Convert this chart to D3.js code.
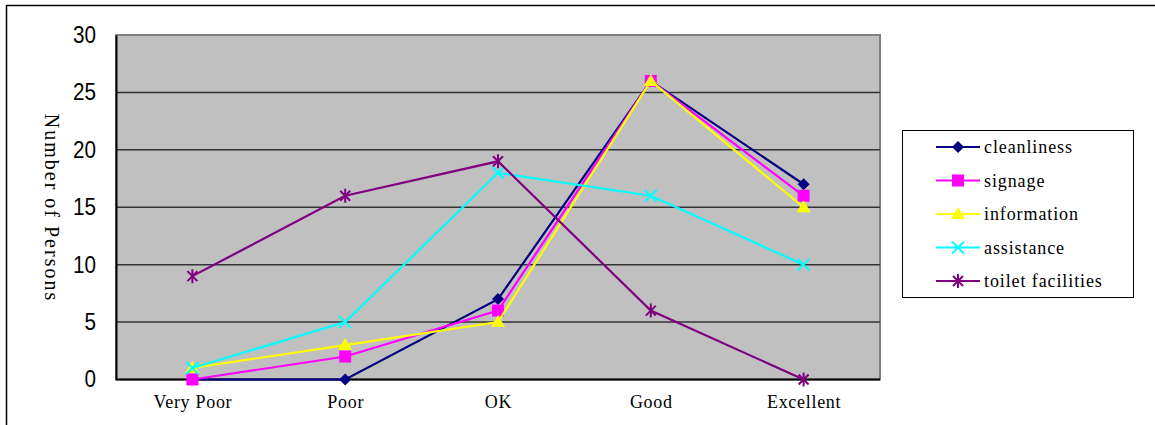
<!DOCTYPE html>
<html><head><meta charset="utf-8">
<script src="https://cdn.jsdelivr.net/npm/d3@7"></script>
<style>body{margin:0;background:#fff;}svg{display:block;}</style>
</head><body>
<script>
const categories = ["Very Poor","Poor","OK","Good","Excellent"];
const seriesNames = ["cleanliness","signage","information","assistance","toilet facilities"];
const cleanliness = [0,0,7,26,17];
const signage = [0,2,6,26,16];
const information = [1,3,5,26,15];
const assistance = [1,5,18,16,10];
const toilet = [9,16,19,6,0];
const yTicks = [0,5,10,15,20,25,30];
const colors = ["#000080","#ff00ff","#ffff00","#00ffff","#800080"];
const markers = ["diamond","square","triangle","x","star"];
const seriesValues = [cleanliness,signage,information,assistance,toilet];

const SERIF = "'Liberation Serif', 'Times New Roman', serif";
const SANS = "'Liberation Sans', Arial, sans-serif";
const W=1155,H=425;
const svg=d3.select("body").append("svg").attr("width",W).attr("height",H);
svg.append("rect").attr("x",6.5).attr("y",5.5).attr("width",1200).attr("height",500)
  .attr("fill","#fff").attr("stroke","#000").attr("stroke-width",1.5);

const L=116,R=880,T=35,B=379.5;
const x=d3.scalePoint().domain(categories).range([L,R]).padding(0.5);
const y=d3.scaleLinear().domain([0,30]).range([B,T]);

svg.append("rect").attr("x",L).attr("y",T).attr("width",R-L).attr("height",B-T)
  .attr("fill","#c0c0c0").attr("stroke","#808080").attr("stroke-width",2);

// gridlines
svg.append("g").selectAll("line").data(yTicks.filter(d=>d>0&&d<30)).join("line")
  .attr("x1",L).attr("x2",R).attr("y1",d=>y(d)).attr("y2",d=>y(d))
  .attr("stroke","#333").attr("stroke-width",1.5);

// axes
const ya=svg.append("g").attr("transform",`translate(${L},0)`)
  .call(d3.axisLeft(y).tickValues(yTicks).tickSize(0).tickPadding(20));
ya.select(".domain").attr("stroke","#000").attr("stroke-width",2);
ya.selectAll("text").attr("font-family",SANS).attr("font-size",23).attr("fill","#000")
  .attr("textLength",d=>String(d).length*11.5).attr("lengthAdjust","spacingAndGlyphs");

svg.append("line").attr("x1",L).attr("x2",R).attr("y1",B).attr("y2",B).attr("stroke","#000").attr("stroke-width",2);

const xa=svg.append("g").attr("transform",`translate(0,${B})`)
  .call(d3.axisBottom(x).tickSize(0).tickPadding(16));
xa.select(".domain").remove();
xa.selectAll("text").attr("font-family",SERIF).attr("font-size",18)
  .attr("letter-spacing","0.7px").attr("fill","#000");

svg.append("text").attr("transform","translate(45,208) rotate(90)")
  .attr("text-anchor","middle").attr("font-family",SERIF)
  .attr("font-size",20).attr("letter-spacing","2px").attr("fill","#000").text("Number of Persons");

function drawMarker(g,type,color,cx,cy){
  if(type==="diamond"){
    g.append("path").attr("d",`M${cx},${cy-6}L${cx+6},${cy}L${cx},${cy+6}L${cx-6},${cy}Z`).attr("fill",color);
  } else if(type==="square"){
    g.append("rect").attr("x",cx-6).attr("y",cy-6).attr("width",12).attr("height",12).attr("fill",color);
  } else if(type==="triangle"){
    g.append("path").attr("d",`M${cx},${cy-7}L${cx+7},${cy+5}L${cx-7},${cy+5}Z`).attr("fill",color);
  } else if(type==="x"){
    g.append("path").attr("d",`M${cx-6},${cy-6}L${cx+6},${cy+6}M${cx-6},${cy+6}L${cx+6},${cy-6}`)
      .attr("stroke",color).attr("stroke-width",2).attr("fill","none");
  } else {
    g.append("path").attr("d",`M${cx-5},${cy-5}L${cx+5},${cy+5}M${cx-5},${cy+5}L${cx+5},${cy-5}M${cx},${cy-7}L${cx},${cy+7}`)
      .attr("stroke",color).attr("stroke-width",2).attr("fill","none");
  }
}

const line=d3.line().x((d,i)=>x(categories[i])).y(d=>y(d));
seriesValues.forEach((vals,si)=>{
  const g=svg.append("g");
  g.append("path").datum(vals).attr("d",line).attr("fill","none").attr("stroke",colors[si]).attr("stroke-width",2.2);
  vals.forEach((v,i)=>drawMarker(g,markers[si],colors[si],x(categories[i]),y(v)));
});

// legend
const lg=svg.append("g");
lg.append("rect").attr("x",902.5).attr("y",130.5).attr("width",231).attr("height",167)
  .attr("fill","#fff").attr("stroke","#000").attr("stroke-width",1);
seriesNames.forEach((n,i)=>{
  const cy=147+i*33.5;
  lg.append("line").attr("x1",936).attr("x2",980).attr("y1",cy).attr("y2",cy).attr("stroke",colors[i]).attr("stroke-width",2.2);
  drawMarker(lg,markers[i],colors[i],958,cy);
  lg.append("text").attr("x",984).attr("y",cy).attr("dy","0.35em")
    .attr("font-family",SERIF).attr("font-size",18)
    .attr("letter-spacing","0.9px").attr("fill","#000").text(n);
});
</script>
</body></html>
